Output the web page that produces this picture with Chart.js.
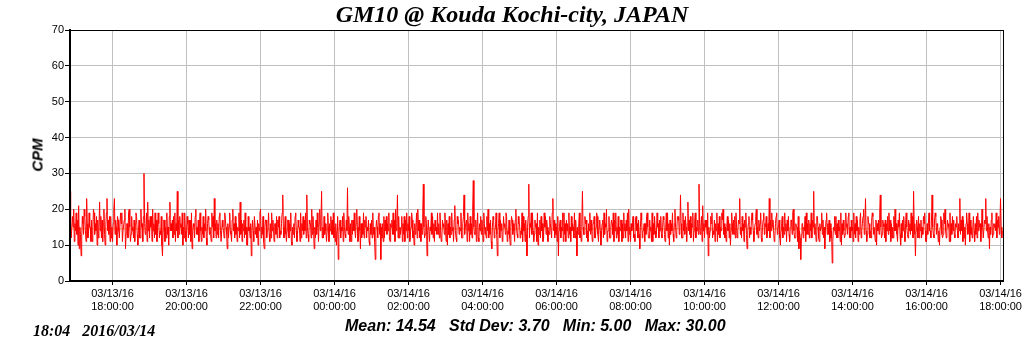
<!DOCTYPE html>
<html>
<head>
<meta charset="utf-8">
<script src="https://cdn.jsdelivr.net/npm/chart.js@4"></script>
<style>
  body { margin: 0; background: #fff; }
  #wrap { position: relative; width: 1024px; height: 351px; }
  .txt { position: absolute; white-space: pre; color: #000; }
  #title { left: 0; width: 1024px; top: 1px; text-align: center; font: italic bold 24px "Liberation Serif", serif; }
  #ylab { left: 37px; top: 155px; transform: translate(-50%, -50%) rotate(-90deg); font: italic bold 15px "Liberation Sans", Arial, sans-serif; }
  #stamp { left: 33px; top: 322px; font: italic bold 16px "Liberation Serif", serif; }
  #stats { left: 345px; top: 317px; font: italic bold 16px "Liberation Sans", Arial, sans-serif; }
</style>
</head>
<body>
<div id="wrap">
  <canvas id="c" width="1024" height="351"></canvas>
  <div class="txt" id="title">GM10 @ Kouda Kochi-city, JAPAN</div>
  <div class="txt" id="ylab">CPM</div>
  <div class="txt" id="stamp">18:04   2016/03/14</div>
  <div class="txt" id="stats">Mean: 14.54   Std Dev: 3.70   Min: 5.00   Max: 30.00</div>
</div>
<script>
// time in minutes from 03/13 00:00, one reading per minute
const startMin = 1011;   // 03/13 16:51
const endMin = 2524;     // 03/14 18:04
const stepMin = 1;
const meanCpm = 14.54;

const cpm = [
  25,17,12,12,18,15,20,11,16,14,19,13,17,10,21,9,15,13,7,12,18,16,13,20,18,14,11,23,16,12,13,19,15,15,11,17,11,14,20,19,13,16,14,18,10,17,12,15,22,14,18,12,17,11,16,20,13,10,15,19,
  23,14,17,13,18,11,18,12,15,11,16,20,23,13,17,15,10,18,17,14,12,12,19,16,19,11,14,14,17,20,9,13,16,16,12,19,20,15,11,13,18,14,15,12,17,11,16,19,18,13,10,14,17,12,12,20,15,16,11,18,
  30,16,13,15,19,11,22,14,17,12,18,15,18,11,20,14,16,12,19,13,17,11,15,19,16,12,14,13,18,10,7,14,17,17,11,15,12,19,13,15,10,18,22,14,16,14,17,12,18,13,19,11,16,14,25,12,17,13,18,15,
  16,13,19,10,15,12,19,14,11,14,18,16,12,17,13,17,11,19,9,14,16,15,12,18,20,13,15,13,17,11,16,19,14,11,15,13,18,12,16,14,20,12,10,16,18,17,13,15,13,11,19,15,18,12,23,14,16,12,17,13,
  16,12,18,19,14,11,11,17,15,14,12,19,17,15,13,9,16,12,15,19,14,13,11,17,20,14,16,12,18,13,16,11,15,14,19,12,22,13,17,11,16,14,17,12,19,13,15,10,10,18,14,15,12,16,7,14,17,14,11,18,
  18,13,15,12,17,10,16,14,19,20,12,15,13,18,11,9,15,17,17,12,14,15,19,13,11,16,12,19,14,17,14,11,16,16,13,18,12,17,15,18,12,14,13,16,19,24,15,12,15,18,13,11,14,17,17,12,16,14,19,11,
  10,15,13,16,12,18,19,14,11,13,17,15,15,11,19,12,16,14,18,13,17,14,19,12,24,15,13,11,17,16,16,12,20,13,18,14,9,15,12,17,13,19,15,11,16,20,14,17,25,12,15,12,18,13,16,14,11,14,19,15,
  11,16,14,18,13,17,13,19,12,15,11,16,10,14,18,6,13,16,17,12,15,14,18,11,19,15,13,12,17,14,26,13,18,15,11,16,11,17,13,17,14,19,14,12,16,20,15,11,13,18,14,9,16,12,16,13,19,12,17,15,
  18,12,15,14,17,11,10,16,13,17,12,19,13,15,11,6,14,17,15,12,18,19,13,16,6,15,12,16,11,18,12,17,14,18,13,16,14,19,12,11,16,15,17,13,19,13,17,11,20,14,16,24,12,18,12,15,13,15,18,11,
  16,13,18,11,17,14,19,12,16,14,18,11,13,15,19,17,12,14,10,16,13,15,19,12,20,14,17,12,16,11,16,13,19,27,15,12,13,18,16,7,14,17,17,11,15,14,19,13,18,12,16,11,17,14,15,13,19,13,16,12,
  19,14,11,12,17,15,16,13,19,14,11,17,10,16,13,18,12,15,13,19,14,15,11,17,21,14,12,11,18,16,17,13,15,14,19,12,12,16,18,24,13,15,15,17,11,19,14,16,11,18,13,16,12,20,28,15,13,13,17,11,
  15,19,12,11,16,14,18,13,17,14,11,19,16,13,15,12,18,14,20,12,16,13,17,11,9,15,18,17,12,14,15,19,13,7,14,16,19,12,17,14,16,11,12,18,15,16,13,19,18,11,14,13,17,12,10,15,18,17,13,16,
  14,11,17,20,15,13,12,18,16,16,12,14,13,19,11,18,14,16,11,17,13,7,15,18,27,12,16,15,19,13,19,14,11,13,17,15,16,11,19,10,15,13,17,12,18,14,16,11,12,19,15,18,13,17,15,11,14,13,18,16,
  16,12,19,23,14,17,12,16,13,15,11,18,7,14,16,17,12,15,14,19,11,19,13,16,11,17,14,16,12,19,13,15,11,18,14,16,15,12,19,12,17,14,7,15,13,16,19,12,14,11,17,25,15,13,13,18,16,17,12,14,
  11,16,14,19,13,17,14,11,16,16,18,12,12,15,19,18,13,11,15,17,14,10,14,16,17,12,19,13,16,15,20,11,14,14,18,12,12,15,17,16,13,19,11,17,14,19,12,15,13,18,11,15,14,17,17,11,16,12,19,14,
  16,12,17,14,19,11,20,13,15,11,16,14,15,18,12,13,11,17,18,14,16,12,17,13,9,15,19,17,12,14,14,16,11,16,13,18,19,15,12,12,17,14,15,11,19,11,16,13,18,14,12,13,19,15,16,12,17,14,18,13,
  12,15,18,17,13,11,15,19,14,19,12,16,10,17,13,16,14,19,13,11,16,20,15,12,14,18,17,18,13,15,24,16,12,12,19,14,17,13,18,15,11,16,22,14,17,13,18,12,16,15,19,11,14,17,19,12,15,14,17,13,
  27,16,13,15,18,11,21,14,16,12,17,15,17,13,19,7,15,12,14,18,16,19,12,14,13,17,11,16,14,19,11,16,13,18,12,15,14,19,17,20,13,16,12,15,11,15,18,14,17,12,16,10,14,19,16,13,17,13,18,12,
  19,15,12,14,17,16,23,13,15,12,18,14,16,11,17,15,19,13,9,14,16,18,12,15,13,17,19,17,14,11,14,16,18,20,13,15,12,17,14,16,19,12,11,15,17,19,13,16,15,18,12,13,16,14,23,12,17,14,19,15,
  17,14,11,12,16,18,19,13,15,15,17,12,10,14,16,18,12,15,13,19,14,16,11,17,14,18,13,11,15,17,17,13,19,20,14,12,12,16,15,15,11,18,9,14,12,6,13,16,16,12,15,14,18,11,19,13,16,13,17,12,
  16,14,19,12,17,15,25,13,16,14,11,18,18,15,12,11,16,14,15,19,13,17,12,15,9,14,17,19,13,16,13,17,11,16,12,14,5,11,15,14,18,13,18,12,16,12,17,14,15,11,19,10,16,13,17,14,12,13,19,15,
  16,13,18,19,12,15,12,17,14,15,11,19,13,16,12,18,14,17,11,15,13,17,19,12,14,16,18,20,13,15,23,14,11,13,18,16,16,12,14,12,17,19,18,13,15,15,11,17,10,16,14,17,13,19,24,15,12,13,17,16,
  15,12,17,11,16,14,18,13,19,14,17,11,16,12,15,12,18,14,20,14,16,13,11,17,15,19,13,10,16,12,17,14,18,14,11,16,19,15,13,12,17,14,16,13,19,14,18,12,25,16,13,7,14,17,15,12,18,12,16,14,
  17,12,15,13,18,16,19,14,11,11,16,13,16,19,14,14,12,17,24,15,13,12,17,19,18,13,16,15,11,14,10,15,18,17,13,12,13,19,16,20,14,12,14,17,15,16,11,19,11,16,13,18,14,17,13,12,16,15,18,14,
  12,16,14,23,13,17,14,18,11,17,12,15,10,16,19,16,13,14,19,11,17,13,15,12,15,18,14,11,16,13,18,12,19,14,17,15,16,11,14,20,15,12,12,17,16,23,14,18,14,12,16,9,15,13,17,19,12,13,16,15,
  16,14,19,12,17,15,18,13,16,23,15,12,14
];

const tickMins = [1080,1200,1320,1440,1560,1680,1800,1920,2040,2160,2280,2400,2520];
const tickDates = ['03/13/16','03/13/16','03/13/16','03/14/16','03/14/16','03/14/16','03/14/16',
                   '03/14/16','03/14/16','03/14/16','03/14/16','03/14/16','03/14/16'];
const tickTimes = ['18:00:00','20:00:00','22:00:00','00:00:00','02:00:00','04:00:00','06:00:00',
                   '08:00:00','10:00:00','12:00:00','14:00:00','16:00:00','18:00:00'];
const yTicks = [0,10,20,30,40,50,60,70];

const points = cpm.map((v, i) => ({ x: startMin + i * stepMin, y: v }));
const tickFont = { family: '"Liberation Sans", Arial, sans-serif', size: 11 };

const frame = {
  id: 'frame',
  afterDraw(chart) {
    const a = chart.chartArea, ctx = chart.ctx;
    ctx.save();
    ctx.strokeStyle = '#000';
    ctx.lineWidth = 1;
    ctx.strokeRect(a.left + 0.5, a.top + 0.5, a.right - a.left, a.bottom - a.top);
    ctx.restore();
  }
};

new Chart('c', {
  type: 'line',
  data: {
    datasets: [{
      data: points,
      borderColor: '#ff0000',
      borderWidth: 1,
      pointRadius: 0,
      tension: 0
    }, {
      data: [{ x: startMin, y: meanCpm }, { x: endMin, y: meanCpm }],
      borderColor: 'rgba(235,185,70,0.9)',
      borderWidth: 1,
      pointRadius: 0
    }]
  },
  options: {
    responsive: false,
    animation: false,
    layout: { padding: { top: 30, right: 20, left: 0, bottom: 0 } },
    plugins: { legend: { display: false }, tooltip: { enabled: false } },
    scales: {
      x: {
        type: 'linear',
        min: startMin,
        max: endMin,
        afterFit(s) { s.height = 70; },
        afterBuildTicks(s) { s.ticks = tickMins.map(v => ({ value: v })); },
        grid: { color: '#c0c0c0', tickColor: '#000', tickLength: 4 },
        border: { color: '#000', width: 2 },
        ticks: {
          autoSkip: false,
          maxRotation: 0,
          padding: 2,
          color: '#000',
          font: tickFont,
          callback: (v) => {
            const i = tickMins.indexOf(v);
            return i < 0 ? '' : [tickDates[i], tickTimes[i]];
          }
        }
      },
      y: {
        min: 0,
        max: 70,
        afterFit(s) { s.width = 70; },
        afterBuildTicks(s) { s.ticks = yTicks.map(v => ({ value: v })); },
        grid: { color: '#c0c0c0', tickColor: '#000', tickLength: 5 },
        border: { color: '#000', width: 2 },
        ticks: { padding: 1, color: '#000', font: tickFont }
      }
    }
  },
  plugins: [frame]
});
</script>
</body>
</html>
